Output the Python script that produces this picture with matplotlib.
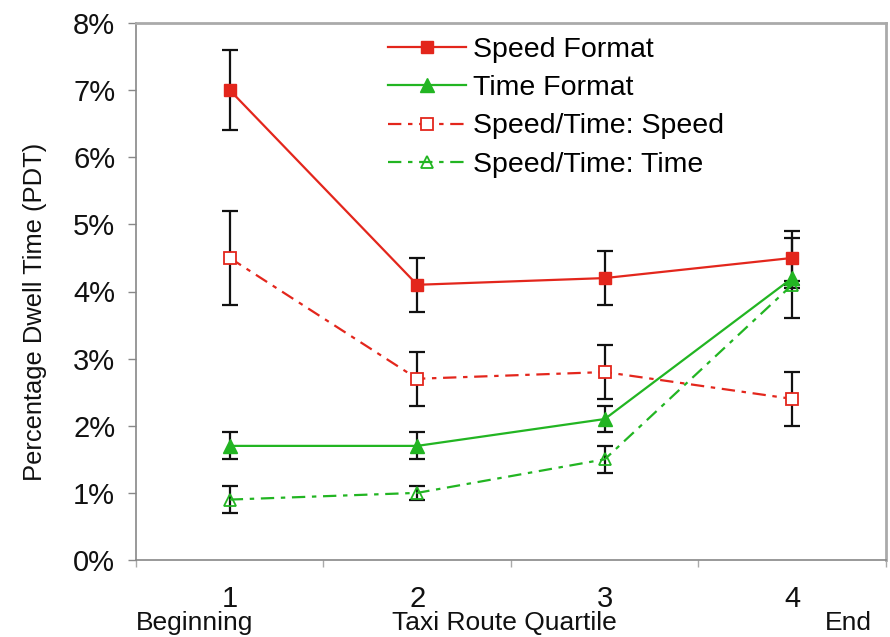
import matplotlib
matplotlib.use("Agg")
import matplotlib.pyplot as plt
from matplotlib.ticker import FuncFormatter

# ---- data ----
quartiles = [1, 2, 3, 4]
quartile_labels = ["1", "2", "3", "4"]
speed_format = [7.0, 4.1, 4.2, 4.5]
speed_format_err = [0.6, 0.4, 0.4, 0.4]
time_format = [1.7, 1.7, 2.1, 4.2]
time_format_err = [0.2, 0.2, 0.2, 0.6]
st_speed = [4.5, 2.7, 2.8, 2.4]
st_speed_err = [0.7, 0.4, 0.4, 0.4]
st_time = [0.9, 1.0, 1.5, 4.1]
st_time_err = [0.2, 0.1, 0.2, 0.05]
y_ticks = [0, 1, 2, 3, 4, 5, 6, 7, 8]

RED = "#e3261c"
GREEN = "#22b522"
FONT = ["Liberation Sans", "DejaVu Sans"]
NARROW = ["Liberation Sans Narrow", "Liberation Sans", "DejaVu Sans"]
plt.rcParams["font.family"] = FONT

fig = plt.figure(figsize=(8.9, 6.37), dpi=100)
ax = fig.add_axes([136 / 890, 1 - 560 / 637, 750 / 890, (560 - 23) / 637])

eb_kw = dict(ecolor="#111111", elinewidth=1.6, capsize=6, capthick=1.6, zorder=2)
dashdot = (0, (6, 3, 2, 3))

ax.errorbar(quartiles, speed_format, yerr=speed_format_err, fmt="none", **eb_kw)
ax.errorbar(quartiles, st_speed, yerr=st_speed_err, fmt="none", **eb_kw)
ax.errorbar(quartiles, time_format, yerr=time_format_err, fmt="none", **eb_kw)
ax.errorbar(quartiles, st_time, yerr=st_time_err, fmt="none", **eb_kw)

l1, = ax.plot(quartiles, speed_format, color=RED, lw=1.6, marker="s", ms=9,
              mfc=RED, mec=RED, zorder=3, label="Speed Format")
l2, = ax.plot(quartiles, time_format, color=GREEN, lw=1.6, marker="^", ms=10,
              mfc=GREEN, mec=GREEN, zorder=3, label="Time Format")
l3, = ax.plot(quartiles, st_speed, color=RED, lw=1.6, ls=dashdot, marker="s", ms=8,
              mfc="white", mec=RED, mew=1.3, zorder=3, label="Speed/Time: Speed")
l4, = ax.plot(quartiles, st_time, color=GREEN, lw=1.6, ls=dashdot, marker="^", ms=9,
              mfc="none", mec=GREEN, mew=1.3, zorder=3, label="Speed/Time: Time")

ax.set_xlim(0.5, 4.5)
ax.set_ylim(0, 8)

# y axis
ax.set_yticks(y_ticks)
ax.yaxis.set_major_formatter(FuncFormatter(lambda v, p: f"{int(v)}%"))
ax.tick_params(axis="y", direction="out", length=6, width=1, color="#888888",
               labelsize=21, pad=9, labelcolor="#111111")

# x axis: boundary tick marks, labels at category centres
ax.set_xticks([0.5, 1.5, 2.5, 3.5, 4.5])
ax.set_xticklabels([])
ax.set_xticks(quartiles, minor=True)
ax.set_xticklabels(quartile_labels, minor=True)
ax.tick_params(axis="x", which="major", direction="out", length=5, width=1, color="#aaaaaa")
ax.tick_params(axis="x", which="minor", length=0, labelsize=21, pad=18, labelcolor="#111111")
for lbl in ax.get_xticklabels(minor=True):
    lbl.set_family(NARROW)

for side in ["left", "bottom"]:
    ax.spines[side].set_color("#888888")
    ax.spines[side].set_linewidth(1.2)
for side in ["top", "right"]:
    ax.spines[side].set_color("#aaaaaa")
    ax.spines[side].set_linewidth(2.0)

# secondary x labels
fig.text(195 / 890, 1 - 630 / 637, "Beginning", ha="center", va="baseline",
         fontsize=19, family=NARROW, color="#111111")
fig.text(504 / 890, 1 - 630 / 637, "Taxi Route Quartile", ha="center", va="baseline",
         fontsize=19, family=NARROW, color="#111111")
fig.text(848 / 890, 1 - 630 / 637, "End", ha="center", va="baseline",
         fontsize=19, family=NARROW, color="#111111")

fig.text(35 / 890, 1 - 312 / 637, "Percentage Dwell Time (PDT)", rotation=90,
         ha="center", va="center", fontsize=18.4, color="#111111")

ax.legend(handles=[l1, l2, l3, l4], loc="upper left", frameon=False,
          bbox_to_anchor=(388 / 890, 1 - 37 / 637), bbox_transform=fig.transFigure,
          fontsize=20.5, handlelength=2.75, handletextpad=0.25, labelspacing=0.43,
          borderpad=0, borderaxespad=0)

fig.savefig("out.png", dpi=100, facecolor="white")
